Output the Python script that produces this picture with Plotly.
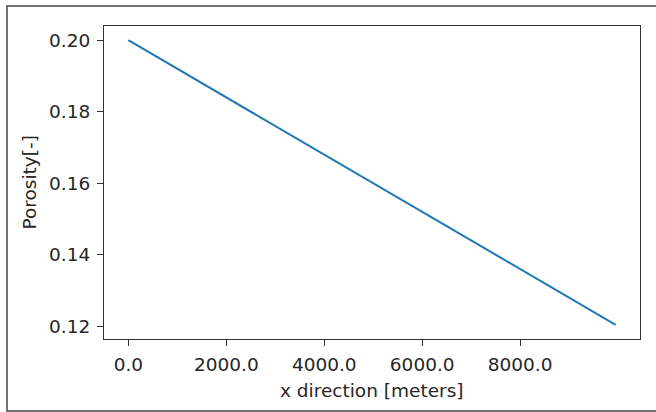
import plotly.graph_objects as go

# Porosity profile along the x direction
x_m = [0.0, 9950.0]
porosity = [0.2, 0.1204]

x_ticks = [0, 2000, 4000, 6000, 8000]
x_tick_text = ["0.0", "2000.0", "4000.0", "6000.0", "8000.0"]
y_ticks = [0.12, 0.14, 0.16, 0.18, 0.20]
y_tick_text = ["0.12", "0.14", "0.16", "0.18", "0.20"]

W, H = 656, 412
L, R, T, B = 104, 16, 26, 73
pw, ph = W - L - R, H - T - B


def padded(vals, frac=0.05):
    lo, hi = min(vals), max(vals)
    d = (hi - lo) * frac
    return [lo - d, hi + d]


font = dict(family="DejaVu Sans", size=18.5, color="#262626")

fig = go.Figure(
    go.Scatter(
        x=x_m, y=porosity, mode="lines",
        line=dict(color="#1f77b4", width=2),
        showlegend=False, hoverinfo="skip",
    )
)

axis_common = dict(
    showline=True, mirror=True, linecolor="#333333", linewidth=1,
    ticks="outside", ticklen=6, tickwidth=1, tickcolor="#333333",
    showgrid=False, zeroline=False, tickfont=font,
)

fig.update_xaxes(range=padded(x_m), tickvals=x_ticks, ticktext=x_tick_text,
                 ticklabelstandoff=3, **axis_common)
fig.update_yaxes(range=padded(porosity), tickvals=y_ticks, ticktext=y_tick_text,
                 ticklabelstandoff=3, **axis_common)

# outer figure frame (its right side runs past the page edge)
fx0, fx1, fy0, fy1 = 7, 660, 6, 411
fig.add_shape(
    type="rect", xref="paper", yref="paper",
    x0=(fx0 - L) / pw, x1=(fx1 - L) / pw,
    y0=(H - B - fy1) / ph, y1=(H - B - fy0) / ph,
    line=dict(color="#444444", width=1.5), fillcolor="rgba(0,0,0,0)",
    layer="below",
)

fig.add_annotation(
    text="x direction [meters]", xref="paper", yref="paper",
    x=0.5, y=0, yanchor="middle", yshift=-(390 - (H - B)),
    showarrow=False, font=font,
)
fig.add_annotation(
    text="Porosity[-]", xref="paper", yref="paper",
    x=0, y=0.5, xanchor="center", xshift=-(L - 29), textangle=-90,
    showarrow=False, font=font,
)

fig.update_layout(
    width=W, height=H,
    margin=dict(l=L, r=R, t=T, b=B, autoexpand=False),
    paper_bgcolor="white", plot_bgcolor="white",
)

fig.write_html("out.html")
